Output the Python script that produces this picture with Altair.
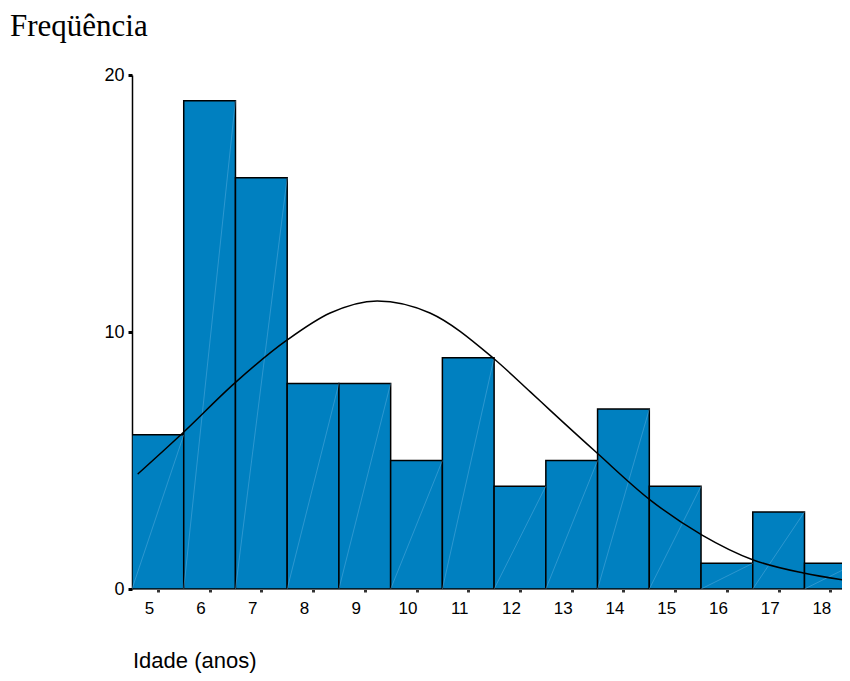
import altair as alt
import pandas as pd

# Histogram data
ages = [5, 6, 7, 8, 9, 10, 11, 12, 13, 14, 15, 16, 17, 18]
counts = [6, 19, 16, 8, 8, 5, 9, 4, 5, 7, 4, 1, 3, 1]

# Normal curve
curve_age = [4.61, 5.48, 6.49, 7.50, 8.33, 9.24, 10.26, 11.48, 12.20, 12.58, 13.49, 14.52, 15.52, 16.51, 17.48, 18.38]
curve_freq = [4.47, 6.07, 8.02, 9.69, 10.74, 11.21, 10.74, 8.99, 7.67, 6.96, 5.29, 3.46, 2.10, 1.13, 0.62, 0.31]

x_ticks = ages
y_ticks = [0, 10, 20]

bars_df = pd.DataFrame({"age": ages, "count": counts})
bars_df["lo"] = bars_df["age"] - 0.5
bars_df["hi"] = bars_df["age"] + 0.5
bars_df["zero"] = 0
curve_df = pd.DataFrame({"age": curve_age, "freq": curve_freq})

xscale = alt.Scale(domain=[4.5, 18.225], nice=False, zero=False)
yscale = alt.Scale(domain=[0, 20], nice=False)

xaxis = alt.Axis(values=x_ticks, title=None, grid=False, labelFont="Liberation Sans",
                 labelFontSize=17, labelColor="black", labelOffset=-9, labelPadding=8,
                 tickSize=3, tickWidth=3, tickColor="#333", domainColor="#666",
                 domainWidth=1, labelFlush=False)
yaxis = alt.Axis(values=y_ticks, title=None, grid=False, labelFont="Liberation Sans",
                 labelFontSize=18, labelColor="black", labelPadding=4,
                 tickSize=4, tickWidth=3, tickColor="black", domainColor="black",
                 domainWidth=1.5)

bars = alt.Chart(bars_df).mark_bar(fill="#0080C0", stroke="black", strokeWidth=1.5, clip=True).encode(
    x=alt.X("lo:Q", scale=xscale, axis=xaxis),
    x2="hi:Q",
    y=alt.Y("zero:Q", scale=yscale, axis=yaxis),
    y2="count:Q",
)

diag = alt.Chart(bars_df).mark_rule(color="#6db6e4", strokeWidth=0.7, opacity=0.6, clip=True).encode(
    x=alt.X("lo:Q", scale=xscale),
    x2="hi:Q",
    y=alt.Y("zero:Q", scale=yscale),
    y2="count:Q",
)

curve = alt.Chart(curve_df).mark_line(color="black", strokeWidth=1.5, interpolate="monotone", clip=True).encode(
    x=alt.X("age:Q", scale=xscale),
    y=alt.Y("freq:Q", scale=yscale),
)

title = alt.Chart(pd.DataFrame({"t": ["Freqüência"]})).mark_text(
    font="Liberation Serif", fontSize=31, align="left", baseline="alphabetic", color="black"
).encode(text="t:N", x=alt.value(-122), y=alt.value(-39))

xtitle = alt.Chart(pd.DataFrame({"t": ["Idade (anos)"]})).mark_text(
    font="Liberation Sans", fontSize=22, align="left", baseline="alphabetic", color="black"
).encode(text="t:N", x=alt.value(1), y=alt.value(593))

chart = alt.layer(bars, diag, curve, title, xtitle).properties(
    width=710, height=514,
    padding={"left": 124, "top": 67, "right": 0, "bottom": 84},
    autosize=alt.AutoSizeParams(type="none"),
).configure_view(stroke=None)

chart.save("out.html", embed_options={"renderer": "svg", "actions": False})
